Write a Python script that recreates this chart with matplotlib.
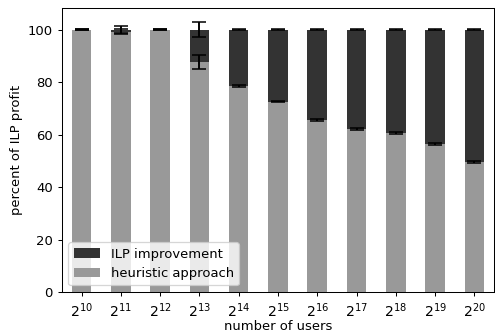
import matplotlib as mpl
mpl.use('agg')
import matplotlib.pyplot as plt
import numpy as np

exponents = [10, 11, 12, 13, 14, 15, 16, 17, 18, 19, 20]
heuristic = [99.9, 99.2, 99.9, 87.7, 78.5, 72.5, 65.5, 62.0, 60.5, 56.5, 49.5]
improvement = [100 - h for h in heuristic]
heuristic_err = [0.2, 1.0, 0.2, 2.7, 0.3, 0.3, 0.3, 0.3, 0.3, 0.3, 0.3]
total_err = [0.2, 1.3, 0.2, 2.7, 0.2, 0.2, 0.2, 0.2, 0.2, 0.2, 0.2]

labels = ['$2^{%d}$' % e for e in exponents]
x = np.arange(len(exponents))

plt.rcParams['font.size'] = 10.3

dpi = 92
fig = plt.figure(figsize=(495 / dpi, 333 / dpi), dpi=dpi)
ax = fig.add_axes([0.125, 0.123, 0.873, 0.853])

b1 = ax.bar(x, heuristic, 0.5, color='#999999', label='heuristic approach')
b2 = ax.bar(x, improvement, 0.5, bottom=heuristic, color='#333333',
            label='ILP improvement')

# error bars for the heuristic share and the total
ax.errorbar(x, heuristic, yerr=heuristic_err, fmt='none', ecolor='black',
            capsize=5.5, elinewidth=1.5, capthick=1.2, zorder=3)
ax.errorbar(x, [100] * len(x), yerr=total_err, fmt='none', ecolor='black',
            capsize=5.5, elinewidth=1.5, capthick=1.2, zorder=3)

ax.set_xticks(x)
ax.set_xticklabels(labels, fontsize=11)
ax.set_xlim(-0.5, len(x) - 0.5)
ax.set_ylim(0, 108.2)
ax.set_xlabel('number of users', labelpad=0)
ax.set_ylabel('percent of ILP profit')

ax.legend([b2, b1], ['ILP improvement', 'heuristic approach'], loc='lower left')

fig.savefig('out.png', dpi=dpi)
